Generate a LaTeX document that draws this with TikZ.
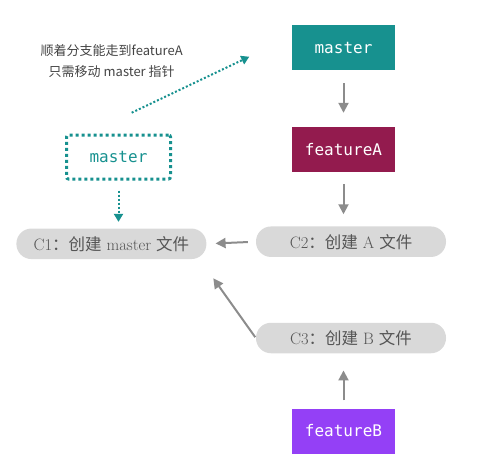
\documentclass[tikz,border=0pt]{standalone}
\usepackage{fontspec}
\newfontfamily\cjk{Noto Sans CJK SC}
\newfontfamily\monof{DejaVu Sans Mono}
\usetikzlibrary{arrows.meta}
\definecolor{teal1}{HTML}{17918F}
\definecolor{fa}{HTML}{931B4E}
\definecolor{fb}{HTML}{9440F6}
\definecolor{cgray}{HTML}{D9D9D9}
\definecolor{ctext}{HTML}{555555}
\definecolor{agray}{HTML}{8C8C8C}
\definecolor{ltext}{HTML}{444444}
\tikzset{
  branch/.style={minimum width=103pt,minimum height=45pt,inner sep=0pt,text=white,font=\monof\fontsize{16}{16}\selectfont},
  commit/.style={fill=cgray,rounded corners=15pt,minimum width=190pt,minimum height=30.5pt,inner sep=0pt,text=ctext,font=\fontsize{16.5}{16.5}\selectfont},
  arr/.style={draw=agray,line width=2pt,-{Triangle[length=10pt,width=10pt]}},
  dotarr/.style={draw=teal1,line width=2pt,dash pattern=on 2pt off 2pt,-{Triangle[length=8pt,width=9pt]}},
}
\begin{document}
\begin{tikzpicture}[x=1pt,y=-1pt]
\useasboundingbox (0,0) rectangle (482,469);
\node[branch,fill=teal1] (mtop) at (343.5,47.7) {master};
\node[branch,fill=fa] (fA) at (343.5,149.5) {featureA};
\node[branch,fill=fb] (fB) at (343.5,431) {featureB};
\node[commit] (c2) at (351,241.7) {C2{\cjk ：创建} A {\cjk 文件}};
\node[commit] (c1) at (111.4,243.8) {C1{\cjk ：创建} master {\cjk 文件}};
\node[commit] (c3) at (351,338) {C3{\cjk ：创建} B {\cjk 文件}};
\node[draw=teal1,line width=3pt,dash pattern=on 3pt off 3pt,rounded corners=2pt,minimum width=104pt,minimum height=44pt,inner sep=0pt,text=teal1,font=\monof\fontsize{16}{16}\selectfont] (mold) at (118.5,157) {master};
\node[text=ltext,align=center,font=\cjk\fontsize{13}{21}\selectfont] (lbl) at (111.7,61) {顺着分支能走到featureA\\只需移动 master 指针};
\coordinate (ds) at (131.7,112.7);
\coordinate (de) at (249.3,56.7);
\coordinate (c1t) at (213.3,278.3);
\draw[arr,shorten <=13pt,shorten >=14pt] (mtop.south) -- (fA.north);
\draw[arr,shorten <=12pt,shorten >=12pt] (fA.south) -- (fA.south |- c2.north);
\draw[arr,shorten <=8pt,shorten >=9pt] (c2.west) -- (c1.east);
\draw[arr,shorten <=8pt,shorten >=17pt] (fB.north) -- (fB.north |- c3.south);
\draw[arr,shorten <=1pt] (c3.west) -- (c1t);
\draw[dotarr,shorten <=10pt,shorten >=6.5pt] (mold.south) -- (c1.north -| mold.south);
\draw[dotarr] (ds) -- (de);
\end{tikzpicture}
\end{document}
